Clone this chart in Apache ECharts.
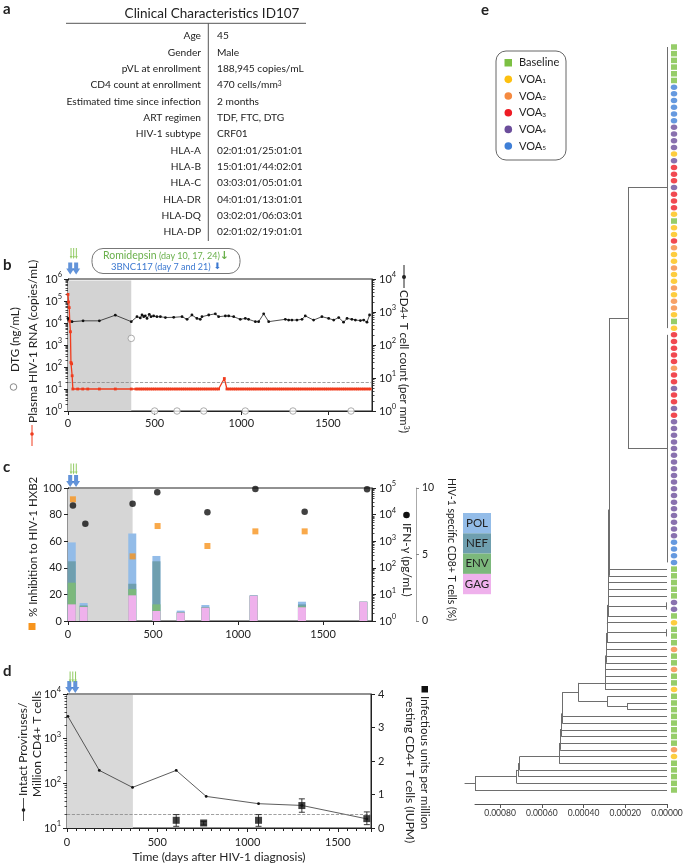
<!DOCTYPE html>
<html><head><meta charset="utf-8">
<script src="https://cdn.jsdelivr.net/npm/echarts@6.0.0/dist/echarts.min.js"></script>
<style>html,body{margin:0;padding:0;background:#fff}#chart{width:685px;height:864px}</style>
</head><body><div id="chart"></div>
<script>
// ================= DATA =================
// Panel a
const tableTitle = 'Clinical Characteristics ID107';
const tableLabels = ['Age','Gender','pVL at enrollment','CD4 count at enrollment','Estimated time since infection','ART regimen','HIV-1 subtype','HLA-A','HLA-B','HLA-C','HLA-DR','HLA-DQ','HLA-DP'];
const tableValues = ['45','Male','188,945 copies/mL','470 cells/mm{s|3}','2 months','TDF, FTC, DTG','CRF01','02:01:01/25:01:01','15:01:01/44:02:01','03:03:01/05:01:01','04:01:01/13:01:01','03:02:01/06:03:01','02:01:02/19:01:01'];

// Treatment annotations (days)
const romidepsinDays = [10, 17, 24];
const bnc117Days = [7, 21];
const artYearEnd = {b: 365, c: 380, d: 365};

// Panel b: plasma HIV-1 RNA (copies/mL)
const vlData = [[0,200000],[3,90000],[7,50000],[10,12000],[14,4000],[17,160],[21,140],[24,40],[28,10],[56,10],[85,10],[114,10],[181,10],[273,10],[365,10],
[392,10],[404,10],[417,10],[428,10],[440,10],[452,10],[463,10],[476,10],[488,10],[500,10],[512,10],[525,10],[537,10],[549,10],[562,10],[574,10],[586,10],[598,10],[611,10],[623,10],[635,10],[648,10],[660,10],[672,10],[684,10],[697,10],[709,10],[721,10],[734,10],[746,10],[758,10],[770,10],[783,10],[795,10],[807,10],[820,10],[832,10],[845,10],[857,10],[869,10],
[902,30],
[917,10],[930,10],[942,10],[955,10],[967,10],[979,10],[992,10],[1004,10],[1016,10],[1029,10],[1041,10],[1053,10],[1066,10],[1078,10],[1090,10],[1103,10],[1115,10],[1127,10],[1140,10],[1152,10],[1164,10],[1177,10],[1189,10],[1201,10],[1214,10],[1226,10],[1238,10],[1251,10],[1263,10],[1275,10],[1288,10],[1300,10],[1312,10],[1325,10],[1337,10],[1349,10],[1362,10],[1374,10],[1386,10],[1399,10],[1411,10],[1423,10],[1436,10],[1448,10],[1460,10],[1473,10],[1485,10],[1497,10],[1510,10],[1522,10],[1534,10],[1547,10],[1559,10],[1571,10],[1584,10],[1596,10],[1608,10],[1621,10],[1633,10],[1645,10],[1658,10],[1670,10],[1682,10],[1695,10],[1707,10],[1719,10],[1732,10],[1744,10]];
const vlLimit = 20;
// CD4+ T cell count (per mm3)
const cd4Data = [[0,640],[4,570],[23,510],[87,540],[181,540],[273,800],[365,510],[398,720],[417,660],[427,810],[437,720],[446,760],[456,640],[469,850],[479,720],[494,760],[513,720],[533,720],[562,680],[610,690],[658,720],[687,600],[715,810],[744,640],[763,600],[773,720],[812,810],[850,880],[869,720],[908,760],[927,760],[956,720],[994,600],[1023,640],[1042,600],[1081,510],[1100,510],[1129,880],[1158,510],[1254,600],[1273,570],[1292,570],[1321,570],[1350,600],[1369,760],[1417,570],[1465,720],[1504,640],[1533,570],[1562,680],[1590,490],[1610,640],[1638,600],[1658,570],[1687,550],[1706,570],[1725,490],[1740,810]];
// DTG (ng/mL)
const dtgData = [[365,2000],[500,1],[629,1],[783,1],[1023,1],[1298,1],[1633,1]];

// Panel c
const cBarDays = [22, 92, 378, 520, 663, 808, 1092, 1376, 1737];
const gagPct = [1.25, 1.05, 1.93, 0.75, 0.63, 1.00, 1.90, 1.03, 1.45];
const envPct = [1.63, 0.05, 0.47, 0.50, 0.00, 0.00, 0.00, 0.07, 0.00];
const nefPct = [1.61, 0.07, 0.40, 3.24, 0.05, 0.05, 0.00, 0.15, 0.00];
const polPct = [1.42, 0.18, 3.77, 0.40, 0.10, 0.15, 0.05, 0.20, 0.00];
const inhibitionData = [[29,91.5],[380,48.6],[527,71.4],[820,56.4],[1102,67.4],[1392,67.4]];
const ifngData = [[29,22000],[102,4550],[380,25700],[525,69000],[820,12300],[1102,91000],[1392,12900],[1759,89000]];

// Panel d
const proviruses = [[5,3160],[179,195],[363,81],[605,195],[771,51],[1061,35],[1301,32],[1661,16]];
const provLimit = 20;
// IUPM: [day, value, low, high]
const iupmData = [[605,0.23,0.05,0.40],[757,0.15,0.09,0.20],[1061,0.23,0.05,0.40],[1301,0.67,0.47,0.87],[1661,0.28,0.10,0.48]];

// Panel e: phylogeny
const groupNames = {B:'Baseline','1':'VOA{sub|1}','2':'VOA{sub|2}','3':'VOA{sub|3}','4':'VOA{sub|4}','5':'VOA{sub|5}'};
const groupOrder = ['B','1','2','3','4','5'];
const groupColors = {B:'#7cc043','1':'#fdc00f','2':'#f58a40','3':'#ee1c25','4':'#6b4d9b','5':'#3f7fd7'};
const leafGroupsCluster1 = ['BBBBBB','555555','4444','1','4','333','4','333','1','B','11','3','2','11','2','11','2','1','22','1','B','1'].join('');
const leafGroupsCluster2 = ['33333','2','33','4','33','4','3','444444444444444444','5555'].join('');
const leafGroupsLower = ['BBBBB','44','B','1','BBB','2','BB','2','BB','1','BBBBBBBB','2','1','BBBBB'].join('');
const leafGroups = (leafGroupsCluster1 + leafGroupsCluster2 + leafGroupsLower).split('');
const nodeHeights = {C12:0.000187, G:0.000190, F:0.000286, K:0.000425, H:0.000706, A1:0.000712, A2:0.000720, R:0.00092, cherry:0.000002, stub:0.00005};
const dLadderHeights = [0.000278,0.000279,0.000280,0.000280,0.000281,0.000282,0.000283,0.000284,0.000286,0.000288,0.000290,0.000291,0.000292,0.000294,0.000295,0.000296,0.000297];
const dLadderTips = [78,79,80,81,82,[83,84],85,86,[87,88],89,90,91,92,93,94,95,96];
const eLadderHeights = [0.000500,0.000502,0.000505,0.000507,0.000510,0.000512,0.000515,0.000517];
const eLadderTips = [100,101,102,103,104,105,106,107];

// ================= BUILD =================
const PF = 'Lato, "Noto Sans", sans-serif';
const INK = '#222';

function range(a,b){const r=[];for(let i=a;i<=b;i++)r.push(i);return r;}
const cl1 = {h:0, c:range(0,42)};
const cl2 = {h:0, c:range(43,77)};
let node = {h:nodeHeights.C12, c:[cl1, cl2]};
dLadderTips.forEach((t,i)=>{const tip = Array.isArray(t)?{h:nodeHeights.cherry,c:t}:t; node={h:dLadderHeights[i],c:[node,tip]};});
const nodeG = {h:nodeHeights.G, c:[98,99]};
const nodeF = {h:nodeHeights.F, c:[97,nodeG]};
node = {h:nodeHeights.K, c:[node,nodeF]};
eLadderTips.forEach((t,i)=>{node={h:eLadderHeights[i],c:[node,t]};});
node = {h:nodeHeights.H, c:[node,108]};
node = {h:nodeHeights.A1, c:[node,109]};
node = {h:nodeHeights.A2, c:[node,110]};
const root = {h:nodeHeights.R, c:[node,111]};
const segs = [];
function lay(n){
  if (typeof n === 'number') return {y:n, h:0};
  const ch = n.c.map(lay);
  const y = (ch[0].y + ch[ch.length-1].y)/2;
  segs.push([[n.h, ch[0].y],[n.h, ch[ch.length-1].y]]);
  ch.forEach(c=>{ if (n.h !== c.h) segs.push([[n.h,c.y],[c.h,c.y]]); });
  return {y, h:n.h};
}
const rl = lay(root);
segs.push([[rl.h, rl.y],[rl.h + nodeHeights.stub, rl.y]]);

// stacked CD8 bars (cumulative tops, drawn back-to-front)
const cumGag = gagPct.map(v=>v);
const cumEnv = gagPct.map((v,i)=>v+envPct[i]);
const cumNef = cumEnv.map((v,i)=>v+nefPct[i]);
const cumPol = cumNef.map((v,i)=>v+polPct[i]);

// ---------- graphics ----------
const graphics = [];
function T(x,y,text,o){
  o=o||{};
  const al=o.align||'left', va=o.va||'middle';
  graphics.push({type:'text', x, y, rotation:o.rot||0, silent:true, z:100,
    style:{text, fill:o.color||INK, fontSize:o.size||11, fontFamily:PF, fontWeight:o.weight||'normal',
      align:al, verticalAlign:va, textAlign:al, textVerticalAlign:va, rich:o.rich}});
}
function L(x1,y1,x2,y2,color,w,dash){graphics.push({type:'line',silent:true,z:100,shape:{x1,y1,x2,y2},style:{stroke:color||INK,lineWidth:w||1,lineDash:dash}});}
function C(cx,cy,r,fill,stroke){graphics.push({type:'circle',silent:true,z:100,shape:{cx,cy,r},style:{fill:fill||'none',stroke:stroke||null,lineWidth:1}});}
function R(x,y,w,h,fill,stroke,r){graphics.push({type:'rect',silent:true,z:99,shape:{x,y,width:w,height:h,r:r||0},style:{fill:fill||'none',stroke:stroke||null,lineWidth:1}});}
const supRich = (sz)=>({s:{fontSize:sz*0.65,fill:INK,color:INK,fontFamily:PF,verticalAlign:'top',lineHeight:6}});
const PI2 = Math.PI/2;

// panel letters
T(3,9,'a',{size:15,weight:'bold'});
T(3,265,'b',{size:15,weight:'bold'});
T(3,467,'c',{size:15,weight:'bold'});
T(3,671,'d',{size:15,weight:'bold'});
T(481,10,'e',{size:15,weight:'bold'});

// panel a table
T(212,14,tableTitle,{align:'center',size:13.5});
L(66,23.3,306,23.3,'#555',1);
L(208.3,23.3,208.3,241,'#555',1);
tableLabels.forEach((lab,i)=>{
  const y = 36 + i*16.33;
  T(201,y,lab,{align:'right',size:10.2});
  T(217,y,tableValues[i],{align:'left',size:10.2,rich:supRich(10.2)});
});

// panel b annotation box
R(92,248.5,148,25,'none','#777',11);
T(166,256,'{a|Romidepsin}{b| (day 10, 17, 24)}{c|↓}',{align:'center',color:'#6ab04c',
  rich:{a:{fontSize:10.5,fill:'#6ab04c',color:'#6ab04c',fontFamily:PF},b:{fontSize:9,fill:'#6ab04c',color:'#6ab04c',fontFamily:PF},c:{fontSize:11,fill:'#6ab04c',color:'#6ab04c',fontWeight:'bold',fontFamily:'DejaVu Sans'}}});
T(166,267,'{a|3BNC117}{b| (day 7 and 21)}{c| ⬇}',{align:'center',color:'#3b78d0',
  rich:{a:{fontSize:9.5,fill:'#3b78d0',color:'#3b78d0',fontFamily:PF},b:{fontSize:9,fill:'#3b78d0',color:'#3b78d0',fontFamily:PF},c:{fontSize:9,fill:'#3b78d0',color:'#3b78d0',fontFamily:'DejaVu Sans'}}});

// panel b axis titles
C(13.5,387,3.3,'#fff','#888');
T(15,372,'DTG (ng/mL)',{rot:PI2,size:11.5});
T(33.5,423,'Plasma HIV-1 RNA (copies/mL)',{rot:PI2,size:12});
L(32,425,32,446,'#f03c1e',1); C(32,434,1.8,'#f03c1e');
L(404,265,404,288,INK,1); C(404,277,2,INK);
T(404,290,'CD4+ T cell count (per mm{s|3})',{rot:-PI2,size:11.5,rich:supRich(11.5)});

// panel c axis titles
T(33,617,'% Inhibition to HIV-1 HXB2',{rot:PI2,size:11.5});
R(28.5,623,7,7,'#f7941d');
C(406.5,515,3.3,'#111');
T(406.5,523,'IFN-γ (pg/mL)',{rot:-PI2,size:12});
T(451,478,'HIV-1 specific CD8+ T cells (%)',{rot:-PI2,size:10.5});
// gene legend
const geneLegend = [['POL','#93bce8'],['NEF','#6f9faf'],['ENV','#7cb87c'],['GAG','#efb1ec']];
geneLegend.forEach((g,i)=>{R(463,513+i*20.3,28,20.3,g[1]); T(477,523+i*20.3,g[0],{align:'center',size:11.5});});

// panel d axis titles
T(23.5,796,'Intact Proviruses/',{rot:PI2,size:12});
L(23.5,798,23.5,821,INK,0.8); C(23.5,810,1.8,INK);
T(37.5,797,'Million CD4+ T cells',{rot:PI2,size:12});
R(421.5,686,6.5,6.5,'#111');
T(425,696,'Infectious units per million',{rot:-PI2,size:11.5});
T(410,697,'resting CD4+ T cells (IUPM)',{rot:-PI2,size:12});

// panel e legend
R(496,51,70,109,'none','#666',10);
groupOrder.forEach((g,i)=>{
  const y = 62.7 + i*16.67;
  if (g==='B') R(504.5,y-3.7,7.5,7.5,groupColors[g]); else C(508.3,y,3.8,groupColors[g]);
  T(519,y,groupNames[g],{size:11,rich:{sub:{fontSize:6.5,fill:INK,color:INK,fontFamily:PF,verticalAlign:'bottom',lineHeight:6}}});
});

// ---------- axes helpers ----------
function axisBase(extra){
  return Object.assign({
    axisLine:{show:true,onZero:false,lineStyle:{color:INK,width:1}},
    axisTick:{show:true,length:4,lineStyle:{color:INK,width:1}},
    splitLine:{show:false},
    axisLabel:{color:INK,fontSize:11,fontFamily:PF}
  }, extra);
}
const dayLabel = (m)=>({color:INK,fontSize:11,fontFamily:PF,margin:m,showMaxLabel:false,formatter:v=>String(v)});
function logFmt(v){ return '{b|10}{s|' + Math.round(Math.log10(v)) + '}'; }
const logRich = {b:{fontSize:11,color:INK,fontFamily:PF,lineHeight:16},s:{fontSize:7.5,color:INK,fontFamily:PF,verticalAlign:'top',lineHeight:8}};
function logAxis(extra){
  return axisBase(Object.assign({type:'log',logBase:10,
    minorTick:{show:true,splitNumber:9,length:2.5,lineStyle:{color:INK,width:0.8}},
    axisLabel:{formatter:logFmt,rich:logRich,color:INK,margin:6}}, extra));
}

const blueArrow = 'path://M2.5,0H7.5V6H10L5,12L0,6H2.5Z';
const greenArrow = 'path://M0.6,0H1.4V8H2L1,11L0,8H0.6Z';
function arrowSeries(xi, yi, topVal, bOff, gOff){
  const blueOffsets=[1,4.5], greenOffsets=[1.3,2.7,4.2];
  return [
    {type:'scatter',xAxisIndex:xi,yAxisIndex:yi,clip:false,silent:true,z:10,symbol:blueArrow,symbolSize:[8,12],itemStyle:{color:'#3b78d0'},
     data:bnc117Days.map((d,i)=>({value:[d,topVal],symbolOffset:[blueOffsets[i],bOff]}))},
    {type:'scatter',xAxisIndex:xi,yAxisIndex:yi,clip:false,silent:true,z:10,symbol:greenArrow,symbolSize:[2.6,11],itemStyle:{color:'#7cc043'},
     data:romidepsinDays.map((d,i)=>({value:[d,topVal],symbolOffset:[greenOffsets[i],gOff]}))}
  ];
}
function cBar(name, vals, color){
  return {type:'bar',name,xAxisIndex:1,yAxisIndex:4,barWidth:8,barGap:'-100%',data:cBarDays.map((d,i)=>[d,vals[i]]),itemStyle:{color},z:3};
}
const gridStyle = {show:true,borderColor:INK,borderWidth:1,backgroundColor:'transparent',outerBoundsMode:'none',containLabel:false};

const option = {
  animation:false,
  textStyle:{fontFamily:PF},
  graphic:{elements:graphics},
  grid:[
    Object.assign({left:68,top:279,width:304,height:132},gridStyle),
    Object.assign({left:68,top:488,width:304,height:133},gridStyle),
    Object.assign({left:67,top:694,width:304,height:134},gridStyle),
    {left:475,top:47,width:192,height:743,show:false,outerBoundsMode:'none',containLabel:false}
  ],
  xAxis:[
    axisBase({gridIndex:0,type:'value',min:0,max:1754,interval:500,axisLabel:dayLabel(7)}),
    axisBase({gridIndex:1,type:'value',min:0,max:1788,interval:500,axisLabel:dayLabel(8)}),
    axisBase({gridIndex:2,type:'value',min:0,max:1684,interval:500,minorTick:{show:true,splitNumber:10,length:3,lineStyle:{color:INK}},
      axisLabel:dayLabel(9),
      name:'Time (days after HIV-1 diagnosis)',nameLocation:'middle',nameGap:23,nameTextStyle:{color:INK,fontSize:12,fontFamily:PF}}),
    axisBase({gridIndex:3,type:'value',min:0,max:0.00092,interval:0.0002,inverse:true,offset:14,
      axisLine:{show:true,onZero:false,lineStyle:{color:'#555',width:1}},axisTick:{show:true,length:4,lineStyle:{color:'#555'}},
      axisLabel:{color:'#333',fontSize:8.5,fontFamily:PF,margin:5,showMaxLabel:false,formatter:v=>v.toFixed(5)}})
  ],
  yAxis:[
    logAxis({gridIndex:0,min:1,max:1e6,position:'left'}),
    logAxis({gridIndex:0,min:1,max:1e4,position:'right',axisLabel:{formatter:logFmt,rich:logRich,color:INK,margin:7}}),
    axisBase({gridIndex:1,type:'value',min:0,max:100,interval:20,position:'left',axisLabel:{color:INK,fontSize:11,fontFamily:PF,margin:6}}),
    logAxis({gridIndex:1,min:1,max:1e5,position:'right',axisLabel:{formatter:logFmt,rich:logRich,color:INK,margin:7}}),
    axisBase({gridIndex:1,type:'value',min:0,max:10,interval:5,position:'right',offset:44,
      axisLine:{show:true,onZero:false,lineStyle:{color:'#aaa',width:1}},axisTick:{show:true,length:3,lineStyle:{color:'#888'}},
      axisLabel:{color:INK,fontSize:10.5,fontFamily:PF,margin:6}}),
    logAxis({gridIndex:2,min:10,max:1e4,position:'left'}),
    axisBase({gridIndex:2,type:'value',min:0,max:4,interval:1,position:'right',axisLabel:{color:INK,fontSize:11,fontFamily:PF,margin:7}}),
    {gridIndex:3,type:'value',min:0,max:111,inverse:true,show:false}
  ],
  series:[
    // ---- b ----
    {type:'line',name:'Plasma HIV-1 RNA',xAxisIndex:0,yAxisIndex:0,data:vlData,z:4,
     lineStyle:{color:'#f03c1e',width:1.3},itemStyle:{color:'#f03c1e'},symbol:'rect',symbolSize:2.8,showSymbol:true,
     markArea:{silent:true,itemStyle:{color:'#d3d3d3'},data:[[{xAxis:0,yAxis:1},{xAxis:artYearEnd.b,yAxis:8.5e5}]]},
     markLine:{silent:true,symbol:['none','none'],label:{show:false},lineStyle:{color:'#888',type:'dashed',width:0.8},data:[{yAxis:vlLimit}]}},
    {type:'line',name:'CD4',xAxisIndex:0,yAxisIndex:1,data:cd4Data,z:3,
     lineStyle:{color:INK,width:0.8},itemStyle:{color:'#111'},symbol:'circle',symbolSize:2.8},
    {type:'scatter',name:'DTG',xAxisIndex:0,yAxisIndex:0,data:dtgData,clip:false,z:5,
     symbol:'circle',symbolSize:6.5,itemStyle:{color:'#fff',borderColor:'#999',borderWidth:1}},
    ...arrowSeries(0,0,1e6,-10.5,-25.5),
    // ---- c ----
    Object.assign(cBar('POL',cumPol,'#93bce8'),{
     markArea:{silent:true,itemStyle:{color:'#d6d6d6'},data:[[{xAxis:0,yAxis:0},{xAxis:artYearEnd.c,yAxis:9.93}]]}}),
    cBar('NEF',cumNef,'#6f9faf'),
    cBar('ENV',cumEnv,'#7cb87c'),
    cBar('GAG',cumGag,'#efb1ec'),
    {type:'scatter',name:'Inhibition',xAxisIndex:1,yAxisIndex:2,data:inhibitionData,symbol:'rect',symbolSize:6,itemStyle:{color:'#f7941d'},z:6},
    {type:'scatter',name:'IFN-γ',xAxisIndex:1,yAxisIndex:3,data:ifngData,symbol:'circle',symbolSize:6.5,itemStyle:{color:'#111'},clip:false,z:6},
    ...arrowSeries(1,2,100,-7,-19),
    // ---- d ----
    {type:'line',name:'Intact proviruses',xAxisIndex:2,yAxisIndex:5,data:proviruses,z:4,
     lineStyle:{color:'#333',width:0.8},itemStyle:{color:'#111'},symbol:'circle',symbolSize:2.8,
     markArea:{silent:true,itemStyle:{color:'#d9d9d9'},data:[[{xAxis:0,yAxis:10},{xAxis:artYearEnd.d,yAxis:9500}]]},
     markLine:{silent:true,symbol:['none','none'],label:{show:false},lineStyle:{color:'#888',type:'dashed',width:0.8},data:[{yAxis:provLimit}]}},
    {type:'custom',name:'IUPM err',xAxisIndex:2,yAxisIndex:6,data:iupmData.map(d=>[d[0],d[2],d[3]]),encode:{x:0,y:[1,2]},z:5,
     renderItem:(p,api)=>{
       const x=api.value(0); const lo=api.coord([x,api.value(1)]), hi=api.coord([x,api.value(2)]); const w=3;
       const st={stroke:'#222',lineWidth:0.9};
       return {type:'group',children:[
         {type:'line',shape:{x1:lo[0],y1:lo[1],x2:hi[0],y2:hi[1]},style:st},
         {type:'line',shape:{x1:lo[0]-w,y1:lo[1],x2:lo[0]+w,y2:lo[1]},style:st},
         {type:'line',shape:{x1:hi[0]-w,y1:hi[1],x2:hi[0]+w,y2:hi[1]},style:st}]};
     }},
    {type:'scatter',name:'IUPM',xAxisIndex:2,yAxisIndex:6,data:iupmData.map(d=>[d[0],d[1]]),symbol:'rect',symbolSize:7,itemStyle:{color:'#111'},z:6},
    ...arrowSeries(2,5,1e4,-7,-17),
    // ---- e ----
    {type:'lines',coordinateSystem:'cartesian2d',xAxisIndex:3,yAxisIndex:7,polyline:false,silent:true,clip:false,z:3,
     lineStyle:{color:'#6e6e6e',width:1,opacity:1},data:segs.map(s=>({coords:s}))},
    {type:'scatter',xAxisIndex:3,yAxisIndex:7,clip:false,silent:true,z:4,symbolOffset:[7,0],
     data:leafGroups.map((g,i)=>({value:[0,i],symbol:g==='B'?'rect':'circle',symbolSize:g==='B'?[6,5.5]:[6.5,5.5],itemStyle:{color:groupColors[g]}}))}
  ]
};
const chart = echarts.init(document.getElementById('chart'),null,{renderer:'canvas'});
chart.setOption(option);
</script>
</body></html>
